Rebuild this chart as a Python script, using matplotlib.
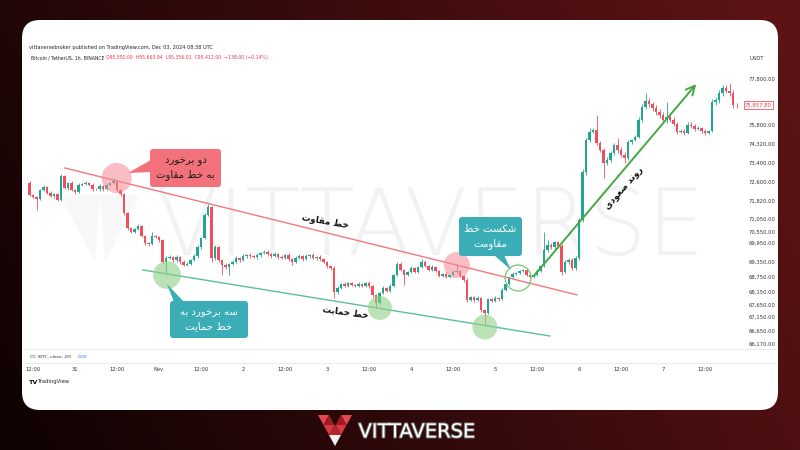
import numpy as np
import matplotlib
matplotlib.use("Agg")
import matplotlib.pyplot as plt
from matplotlib.patches import FancyBboxPatch, Polygon
import matplotlib.patheffects as pe
import matplotlib.transforms as mtransforms

plt.rcParams['font.family'] = ['DejaVu Sans']

# ---------------- data (BTC/USDT, 1h candles, hours from Oct 30 12:00) ----------------
start_hour = -1
first_open = 72560
close = [
    72070, 71980, 71900, 72270, 72400, 72150, 72030, 72110, 71860, 72850,
    72350, 72560, 72270, 72190, 72480, 72520, 72560, 72480, 72310, 72300,
    72440, 72310, 72480, 72560, 72640, 72270, 72110, 71310, 70700, 70550,
    70670, 70780, 70330, 69950, 69920, 70330, 70280, 70110, 69350, 69480,
    69510, 69410, 69510, 69350, 69230, 69270, 69410, 69540, 69820, 70220,
    71220, 71560, 69480, 69820, 69410, 69230, 69150, 69270, 69350, 69480,
    69410, 69540, 69570, 69540, 69510, 69570, 69630, 69670, 69600, 69540,
    69600, 69510, 69480, 69570, 69440, 69350, 69480, 69540, 69440, 69540,
    69570, 69480, 69510, 69440, 69350, 69190, 69110, 68150, 68310, 68470,
    68390, 68510, 68430, 68390, 68470, 68390, 68510, 68390, 68040, 67730,
    68110, 68310, 68190, 68390, 68830, 69270, 69030, 68830, 68950, 69110,
    68950, 69150, 69350, 69190, 69030, 69150, 68990, 68790, 68870, 68750,
    68830, 68950, 68990, 68790, 68630, 67840, 67960, 67840, 67920, 67440,
    67320, 67880, 67800, 67920, 67880, 68230, 68470, 68750, 68870, 68910,
    68990, 69030, 68830, 68750, 68830, 68990, 69190, 69730, 69890, 69820,
    70000, 69860, 68950, 69350, 69410, 69110, 69480, 71010, 73020, 74630,
    75250, 75410, 74400, 74030, 73400, 73550, 73880, 74270, 74030, 73790,
    73640, 74480, 74630, 74870, 76020, 76580, 76840, 76710, 76540, 76370,
    76230, 76020, 76150, 76020, 75840, 75250, 75330, 75180, 75800, 75720,
    75490, 75570, 75330, 75180, 75330, 76800, 76890, 77190, 77410, 77280,
    77190, 76670, 76660,
]
wick_up = [
    80, 40, 60, 50, 70, 40, 60, 50, 40, 90,
    60, 50, 70, 40, 60, 50, 80, 40, 60, 50,
    60, 40, 70, 50, 130, 40, 60, 50, 40, 60,
    50, 70, 40, 60, 50, 220, 60, 40, 50, 60,
    50, 40, 60, 40, 50, 60, 40, 50, 60, 80,
    90, 130, 60, 70, 40, 50, 60, 40, 50, 60,
    40, 50, 40, 60, 40, 50, 40, 60, 50, 40,
    50, 40, 60, 40, 50, 40, 60, 50, 40, 50,
    40, 50, 40, 60, 50, 40, 50, 60, 70, 50,
    60, 40, 50, 40, 60, 50, 40, 60, 50, 40,
    50, 60, 40, 60, 50, 80, 60, 40, 50, 60,
    50, 40, 90, 50, 40, 60, 40, 50, 40, 60,
    40, 60, 320, 50, 40, 60, 50, 40, 60, 50,
    60, 50, 40, 60, 50, 60, 50, 40, 60, 50,
    40, 50, 60, 50, 40, 60, 50, 820, 200, 60,
    80, 60, 50, 70, 60, 80, 60, 90, 120, 150,
    300, 120, 820, 150, 100, 120, 90, 110, 520, 130,
    120, 140, 100, 130, 110, 120, 350, 120, 100, 140,
    110, 120, 650, 100, 130, 110, 140, 120, 110, 130,
    110, 130, 100, 120, 110, 140, 120, 110, 130, 120,
    350, 120, 100,
]
wick_dn = [
    30, 50, 470, 40, 60, 50, 40, 70, 50, 60,
    50, 60, 40, 70, 50, 40, 60, 50, 70, 40,
    50, 60, 40, 50, 60, 70, 90, 80, 60, 40,
    40, 60, 70, 50, 60, 40, 50, 80, 90, 520,
    40, 50, 60, 80, 60, 40, 50, 40, 50, 60,
    60, 50, 120, 60, 80, 400, 70, 320, 50, 40,
    50, 40, 60, 50, 40, 60, 50, 40, 60, 50,
    40, 60, 50, 40, 60, 120, 40, 50, 60, 40,
    50, 40, 60, 50, 60, 70, 80, 230, 60, 50,
    40, 60, 50, 60, 40, 50, 60, 80, 70, 200,
    60, 40, 50, 40, 60, 50, 60, 400, 50, 40,
    60, 50, 40, 60, 50, 40, 60, 50, 60, 40,
    50, 40, 60, 50, 70, 60, 40, 60, 50, 80,
    460, 60, 50, 40, 60, 50, 60, 40, 50, 60,
    50, 40, 60, 50, 60, 40, 50, 60, 80, 60,
    60, 80, 120, 60, 70, 90, 80, 60, 90, 110,
    120, 100, 140, 110, 630, 90, 120, 100, 140, 110,
    240, 110, 130, 100, 120, 110, 100, 130, 110, 120,
    120, 100, 130, 110, 120, 140, 110, 130, 100, 120,
    130, 110, 120, 140, 110, 100, 120, 130, 110, 100,
    110, 130, 120,
]

price_ticks = [66170, 66650, 67150, 67650, 68150, 68750, 69350, 69950,
               70550, 71050, 71820, 72600, 73400, 74320, 75800, 77800]
price_labels = ["66,170.00", "66,650.00", "67,150.00", "67,650.00", "68,150.00",
                "68,750.00", "69,350.00", "69,950.00", "70,550.00", "71,050.00",
                "71,820.00", "72,600.00", "73,400.00", "74,320.00", "75,800.00",
                "77,800.00"]
last_price_label = "75,857.80"
time_ticks = [0, 12, 24, 36, 48, 60, 72, 84, 96, 108, 120, 132, 144, 156, 168, 180, 192]
time_labels = ["12:00", "31", "12:00", "Nov", "12:00", "2", "12:00", "3", "12:00",
               "4", "12:00", "5", "12:00", "6", "12:00", "7", "12:00"]

# annotation anchors (hour, price)
resistance_h = [9.1, 155.4]
resistance_p = [73190, 68040]
support_h = [31.4, 147.7]
support_p = [69030, 66465]
res_touch_h = [23.9, 121.1]
res_touch_p = [72770, 69230]
sup_touch_h = [38.3, 99.1, 129.1]
sup_touch_p = [68830, 67530, 66790]
break_h = [138.6]
break_p = [68710]
trend_h = [142.6, 190.0]
trend_p = [68710, 77670]

# ---------------- Persian shaping helper ----------------
FORMS = {
    '\u0627': ('\uFE8D', '\uFE8E', None, None),
    '\u0628': ('\uFE8F', '\uFE90', '\uFE91', '\uFE92'),
    '\u062A': ('\uFE95', '\uFE96', '\uFE97', '\uFE98'),
    '\u062D': ('\uFEA1', '\uFEA2', '\uFEA3', '\uFEA4'),
    '\u062E': ('\uFEA5', '\uFEA6', '\uFEA7', '\uFEA8'),
    '\u062F': ('\uFEA9', '\uFEAA', None, None),
    '\u0631': ('\uFEAD', '\uFEAE', None, None),
    '\u0633': ('\uFEB1', '\uFEB2', '\uFEB3', '\uFEB4'),
    '\u0634': ('\uFEB5', '\uFEB6', '\uFEB7', '\uFEB8'),
    '\u0635': ('\uFEB9', '\uFEBA', '\uFEBB', '\uFEBC'),
    '\u0637': ('\uFEC1', '\uFEC2', '\uFEC3', '\uFEC4'),
    '\u0639': ('\uFEC9', '\uFECA', '\uFECB', '\uFECC'),
    '\u0642': ('\uFED5', '\uFED6', '\uFED7', '\uFED8'),
    '\u0645': ('\uFEE1', '\uFEE2', '\uFEE3', '\uFEE4'),
    '\u0646': ('\uFEE5', '\uFEE6', '\uFEE7', '\uFEE8'),
    '\u0647': ('\uFEE9', '\uFEEA', '\uFEEB', '\uFEEC'),
    '\u0648': ('\uFEED', '\uFEEE', None, None),
    '\u06CC': ('\uFBFC', '\uFBFD', '\uFBFE', '\uFBFF'),
    '\u06A9': ('\uFB8E', '\uFB8F', '\uFB90', '\uFB91'),
}


def shape_line(line):
    out = []
    for i, ch in enumerate(line):
        if ch not in FORMS:
            out.append(ch)
            continue
        iso, fin, ini, med = FORMS[ch]
        prev = line[i - 1] if i > 0 else None
        nxt = line[i + 1] if i + 1 < len(line) else None
        jp = prev in FORMS and FORMS[prev][2] is not None
        jn = ini is not None and nxt in FORMS
        if jp and jn:
            out.append(med)
        elif jp:
            out.append(fin)
        elif jn:
            out.append(ini)
        else:
            out.append(iso)
    return ''.join(reversed(out))


def fa(s):
    return '\n'.join(shape_line(l) for l in s.split('\n'))


# ---------------- figure ----------------
W, H = 800, 450
fig = plt.figure(figsize=(8, 4.5), dpi=100)

# background + card
bg = fig.add_axes([0, 0, 1, 1], zorder=0)
bg.set_xlim(0, W)
bg.set_ylim(H, 0)
bg.axis('off')
yy, xx = np.mgrid[0:H, 0:W]
t = np.clip(0.85 * xx / W + 0.25 * (1 - yy / H) - 0.05, 0, 1)
dark = np.array([18, 3, 3]) / 255
maroon = np.array([92, 19, 21]) / 255
img = dark[None, None, :] * (1 - t[..., None]) + maroon[None, None, :] * t[..., None]
bg.imshow(img, extent=(0, W, H, 0), aspect='auto', zorder=0)
bg.add_patch(FancyBboxPatch((22, 20), 756, 390,
                            boxstyle='round,pad=0,rounding_size=18',
                            fc='white', ec='none', zorder=1))
# watermark (faint logo + word)
wm_parts = [
    [(60, 195), (100, 195), (95, 262)],
    [(100, 195), (140, 195), (105, 262)],
]
for pts in wm_parts:
    bg.add_patch(Polygon(pts, closed=True, fc='#f8f8f9', ec='none', zorder=2))
bg.text(430, 229, "VITTAVERSE", fontsize=66, color='#f2f2f4', ha='center',
        va='center', fontweight='light', zorder=2)

# header texts
bg.text(29, 47, "vittaversebroker published on TradingView.com, Dec 03, 2024 08:38 UTC",
        fontsize=3.6, color='#222222', va='center', zorder=3)
bg.text(31, 58, "Bitcoin / TetherUS, 1h, BINANCE", fontsize=3.3, color='#222222',
        va='center', zorder=3)
bg.text(106, 58, "O95,550.00  H95,663.94  L95,356.01  C95,412.00  \u2212138.00 (\u22120.14%)",
        fontsize=3.3, color='#f23645', va='center', zorder=3)
bg.text(749, 58, "USDT", fontsize=3.8, color='#333333', va='center', zorder=3)

# separators
bg.plot([25, 776], [349, 349], color='#e6e6e6', lw=0.6, zorder=3)
bg.plot([25, 776], [363, 363], color='#e6e6e6', lw=0.6, zorder=3)
bg.text(30, 357, "CC (BTC, close, 20)", fontsize=3.2, color='#333333', va='center', zorder=3)
bg.text(78, 357, "0.00", fontsize=3.2, color='#2962ff', va='center', zorder=3)
bg.text(29, 382, "TV", fontsize=4.6, color='#111111', va='center', fontweight='bold', zorder=3)
bg.text(38, 382, "TradingView", fontsize=3.8, color='#222222', va='center', zorder=3)

# bottom logo
v_parts = [
    ([(318, 415), (329, 415), (323.5, 425)], '#e5484e'),
    ([(329, 415), (323.5, 425), (334.5, 425)], '#9e1b22'),
    ([(323.5, 425), (334.5, 425), (329, 435)], '#d8383f'),
    ([(341, 415), (352, 415), (346.5, 425)], '#e5484e'),
    ([(341, 415), (346.5, 425), (335.5, 425)], '#9e1b22'),
    ([(346.5, 425), (335.5, 425), (341, 435)], '#d8383f'),
    ([(329, 435), (341, 435), (335, 446)], '#f2f2f2'),
    ([(334.5, 425), (335.5, 425), (341, 435), (329, 435)], '#b3252b'),
]
for pts, col in v_parts:
    bg.add_patch(Polygon(pts, closed=True, fc=col, ec='none', zorder=3))
bg.text(417, 432, "VITTAVERSE", fontsize=14, color='white', ha='center', va='center',
        zorder=3, path_effects=[pe.withStroke(linewidth=1.4, foreground='#6b6b6b')])

# ---------------- price chart ----------------
ax = fig.add_axes([25 / W, 1 - 348 / H, 715 / W, 283 / H], zorder=1)
ax.patch.set_alpha(0)

scale_p = np.array([60000, 66020] + price_ticks + [78410, 85000], dtype=float)
scale_px = np.array([511, 348, 344, 331, 317, 305, 292, 277, 262, 243, 232,
                     219, 201, 182, 163, 144, 125, 79, 65, -86], dtype=float)


def fwd(p):
    return -np.interp(p, scale_p, scale_px)


def inv(y):
    return np.interp(y, -scale_px[::-1], scale_p[::-1])


ax.set_yscale('function', functions=(fwd, inv))
ax.set_ylim(66020, 78410)
ax.set_xlim(-2.29, 202.0)

hrs = np.arange(start_hour, start_hour + len(close))
c = np.array(close, dtype=float)
o = np.concatenate([[first_open], c[:-1]])
hi = np.maximum(o, c) + np.array(wick_up)
lo = np.minimum(o, c) - np.array(wick_dn)
GREEN, RED = '#22a68f', '#f0505e'
cols = np.where(c >= o, GREEN, RED)
ax.vlines(hrs, lo, hi, colors=cols, lw=0.6, zorder=2)
ax.bar(hrs, np.maximum(np.abs(c - o), 25), bottom=np.minimum(o, c), width=0.62,
       color=cols, lw=0, zorder=3)

# trend lines
ax.plot(resistance_h, resistance_p, color='#f4787f', lw=1.0, zorder=4)
ax.plot(support_h, support_p, color='#5dbf97', lw=1.0, zorder=4)
ax.scatter(res_touch_h, res_touch_p, s=[470, 350], color='#f58a92', alpha=0.55, lw=0, zorder=5)
ax.scatter(sup_touch_h, sup_touch_p, s=[400, 300, 320], color='#8fcf86', alpha=0.6, lw=0, zorder=5)
ax.scatter(break_h, break_p, s=350, facecolor='none', edgecolor='#78c46f', lw=0.9, zorder=5)
ax.annotate('', xy=(trend_h[1], trend_p[1]), xytext=(trend_h[0], trend_p[0]),
            arrowprops=dict(arrowstyle='->', color='#45a840', lw=1.4, mutation_scale=16),
            zorder=6)

for s in ax.spines.values():
    s.set_visible(False)
ax.yaxis.tick_right()
ax.set_yticks(price_ticks)
ax.set_yticklabels(price_labels)
ax.yaxis.set_minor_locator(matplotlib.ticker.NullLocator())
ax.tick_params(axis='y', length=0, pad=6, labelsize=3.8, labelcolor='#333333')
ax.set_xticks(time_ticks)
ax.set_xticklabels(time_labels)
ax.tick_params(axis='x', length=0, pad=14, labelsize=3.8, labelcolor='#333333')

# last price tag
trans = mtransforms.blended_transform_factory(ax.transAxes, ax.transData)
ax.text(1.007, close[-1], last_price_label, transform=trans, fontsize=3.8, color='#f23645',
        va='center', ha='left', zorder=7,
        bbox=dict(boxstyle='square,pad=0.25', fc='white', ec='#f23645', lw=0.5))

# ---------------- overlay: callouts & labels ----------------
ov = fig.add_axes([0, 0, 1, 1], zorder=2)
ov.set_xlim(0, W)
ov.set_ylim(H, 0)
ov.axis('off')


def callout(x0, y0, w, h, color, tri, lines, tcolor):
    ov.add_patch(Polygon(tri, closed=True, fc=color, ec='none', zorder=3))
    ov.add_patch(FancyBboxPatch((x0, y0), w, h, boxstyle='round,pad=0,rounding_size=3',
                                fc=color, ec='none', zorder=3))
    cy = y0 + h / 2
    for k, ln in enumerate(lines):
        ov.text(x0 + w / 2, cy + (k - (len(lines) - 1) / 2) * 14, shape_line(ln),
                fontsize=7.3, color=tcolor, ha='center', va='center', zorder=4,
                family=['DejaVu Sans'])


callout(150, 149, 71, 38, '#f2717a', [(151, 160), (151, 172), (128, 173)],
        ["دو برخورد", "به خط مقاوت"], '#1c1c1c')
callout(170, 301, 78, 37, '#3aadb6', [(167, 284), (174, 302), (184, 302)],
        ["سه برخورد به", "خط حمایت"], 'white')
callout(459, 217, 63, 39, '#3aadb6', [(494, 255), (504, 255), (511, 270)],
        ["شکست خط", "مقاومت"], 'white')

ov.text(325, 222, fa("خط مقاوت"), fontsize=6.3, fontweight='bold', color='#111111',
        ha='center', va='center', rotation=-10, zorder=4)
ov.text(346, 312, fa("خط حمایت"), fontsize=6.3, fontweight='bold', color='#111111',
        ha='center', va='center', rotation=-8, zorder=4)
ov.text(624, 188, fa("روند صعودی"), fontsize=6.3, fontweight='bold', color='#111111',
        ha='center', va='center', rotation=49, zorder=4)

fig.savefig('out.png', dpi=100)
